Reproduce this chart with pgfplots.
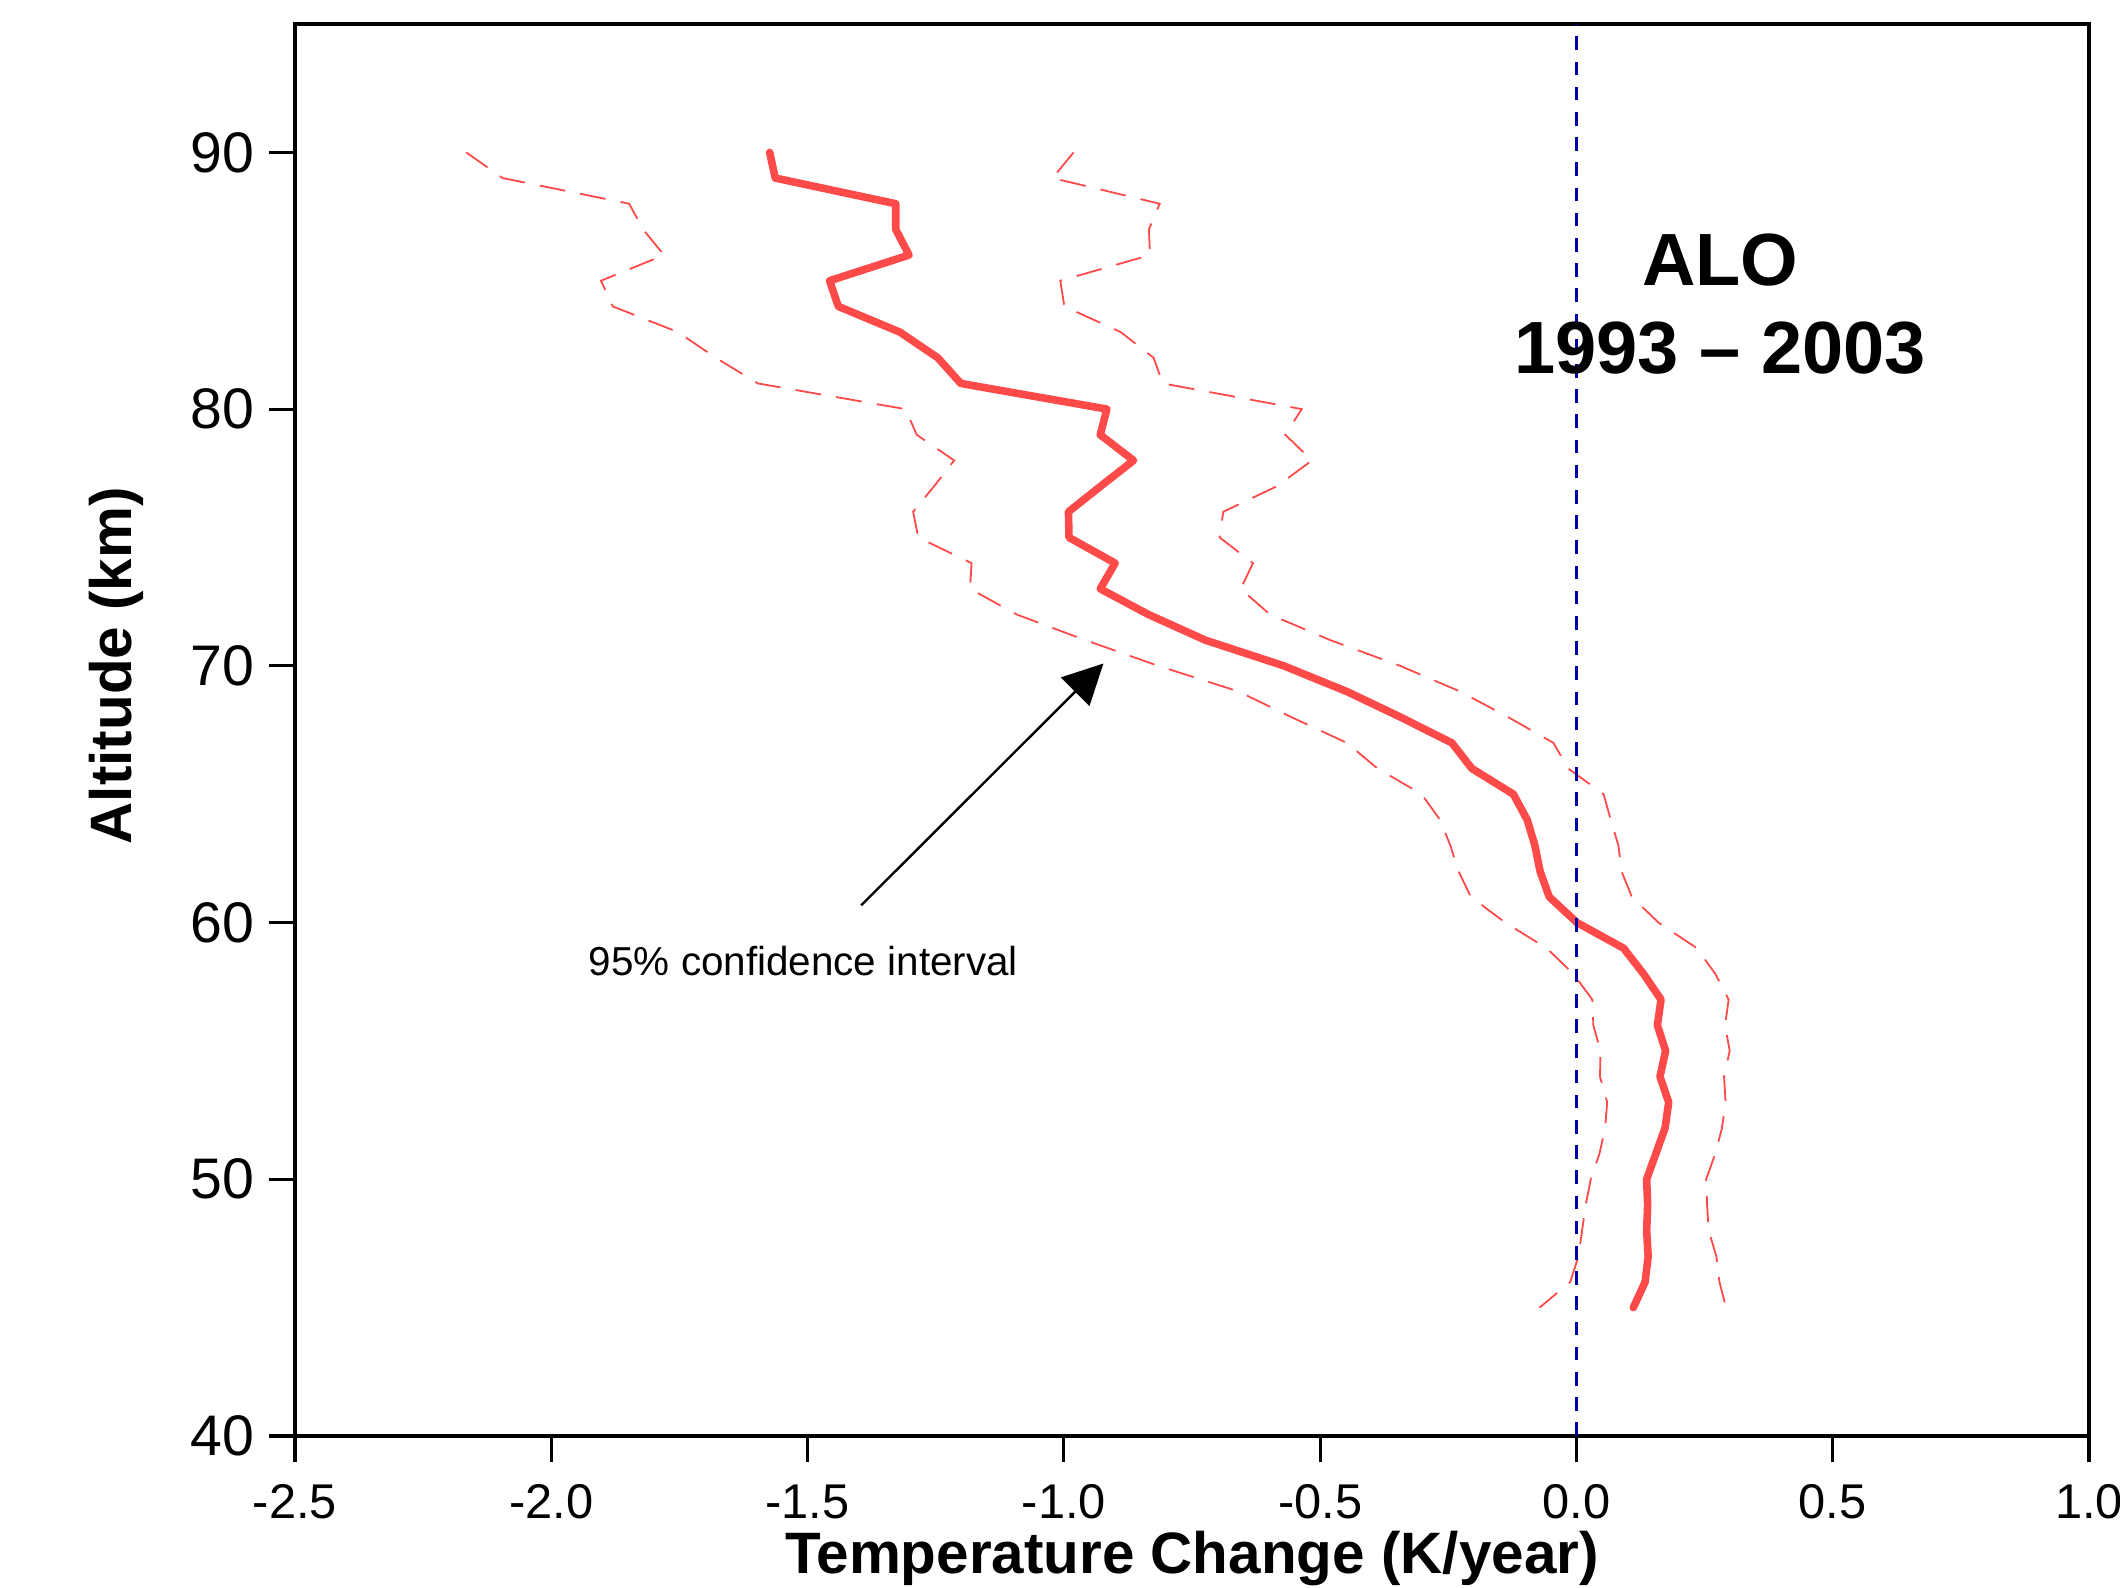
\documentclass[border=0pt]{standalone}
\usepackage{fontspec}
\setmainfont{Liberation Sans}
\usepackage{pgfplots}
\pgfplotsset{compat=1.18}
\usepackage{pgfplotstable}
\usetikzlibrary{arrows.meta}
\definecolor{redline}{RGB}{255,74,74}
\definecolor{blueline}{RGB}{0,0,170}

\pgfplotstableread{
a mean lo hi
90 -1.574 -2.166 -0.981
89 -1.563 -2.095 -1.022
88 -1.328 -1.848 -0.813
87 -1.328 -1.821 -0.834
86 -1.302 -1.780 -0.832
85 -1.457 -1.903 -1.007
84 -1.440 -1.880 -0.999
83 -1.320 -1.753 -0.889
82 -1.246 -1.679 -0.825
81 -1.201 -1.597 -0.807
80 -0.916 -1.309 -0.536
79 -0.929 -1.287 -0.568
78 -0.864 -1.214 -0.516
77 -0.928 -1.253 -0.584
76 -0.991 -1.294 -0.689
75 -0.990 -1.284 -0.696
74 -0.900 -1.180 -0.631
73 -0.929 -1.183 -0.655
72 -0.835 -1.092 -0.598
71 -0.724 -0.958 -0.480
70 -0.571 -0.816 -0.344
69 -0.448 -0.659 -0.227
68 -0.343 -0.556 -0.133
67 -0.243 -0.448 -0.045
66 -0.204 -0.388 -0.016
65 -0.123 -0.302 0.053
64 -0.096 -0.266 0.067
63 -0.081 -0.246 0.082
62 -0.071 -0.230 0.088
61 -0.053 -0.206 0.108
60 0.001 -0.139 0.160
59 0.092 -0.058 0.235
58 0.131 -0.006 0.271
57 0.165 0.031 0.297
56 0.158 0.033 0.290
55 0.174 0.047 0.299
54 0.163 0.046 0.288
53 0.180 0.060 0.291
52 0.173 0.056 0.284
51 0.155 0.045 0.271
50 0.137 0.028 0.253
49 0.139 0.018 0.255
48 0.137 0.011 0.258
47 0.140 0.004 0.273
46 0.134 -0.012 0.279
45 0.111 -0.072 0.292
}\datatable

\begin{document}
\begin{tikzpicture}
\begin{axis}[
  name=ax, at={(0,0)}, anchor=south west,
  width=448.5bp, height=353bp, scale only axis,
  xmin=-2.5, xmax=1.0, ymin=40, ymax=95,
  xtick={-2.5,-2.0,-1.5,-1.0,-0.5,0,0.5,1.0},
  ytick={40,50,60,70,80,90},
  tick pos=left,
  tick align=outside,
  major tick length=6.5bp,
  every tick/.style={black, line width=0.8bp},
  axis line style={line width=0.8bp},
  /pgf/number format/assume math mode=true,
  xticklabel style={/pgf/number format/fixed, /pgf/number format/fixed zerofill,
    /pgf/number format/precision=1, font=\fontsize{12.2bp}{14bp}\selectfont,
    anchor=base, inner sep=0pt, yshift=-14.1bp},
  yticklabel style={font=\fontsize{14.3bp}{16bp}\selectfont, anchor=east, inner sep=0pt, xshift=-3.5bp},
  xlabel={Temperature Change (K/year)},
  ylabel={Altitude (km)},
  xlabel style={at={(axis description cs:0.5,-0.0972)}, anchor=base, inner sep=0pt,
    font=\bfseries\fontsize{14.6bp}{16bp}\selectfont},
  ylabel style={at={(axis description cs:-0.091,0.5455)}, anchor=base, inner sep=0pt,
    font=\bfseries\fontsize{14.6bp}{16bp}\selectfont},
]
\addplot[redline, line width=0.45bp, dash pattern=on 6.5bp off 3.8bp] table[x=lo, y=a] {\datatable};
\addplot[redline, line width=0.45bp, dash pattern=on 6.5bp off 3.8bp] table[x=hi, y=a] {\datatable};
\addplot[redline, line width=1.9bp, line join=round, line cap=round] table[x=mean, y=a] {\datatable};
\addplot[blueline, line width=0.6bp, dash pattern=on 3.4bp off 2.9bp] coordinates {(0,40) (0,95)};
\draw[-{Triangle[length=10bp,width=10bp]}, line width=0.6bp] (axis cs:-1.3955,60.67) -- (axis cs:-0.9228,70.09);
\node[anchor=base west, inner sep=0pt, font=\fontsize{10.1bp}{12bp}\selectfont] at (axis cs:-1.928,57.92) {95\% confidence interval};
\node[anchor=base, inner sep=0pt, font=\bfseries\fontsize{18.5bp}{20bp}\selectfont] at (axis cs:0.2803,84.83) {ALO};
\node[anchor=base, inner sep=0pt, font=\bfseries\fontsize{18.5bp}{20bp}\selectfont] at (axis cs:0.2803,81.39) {1993 – 2003};
\end{axis}
\pgfresetboundingbox
\path[use as bounding box] (-73.75bp,-38bp) rectangle (456.25bp,359bp);
\end{tikzpicture}
\end{document}
